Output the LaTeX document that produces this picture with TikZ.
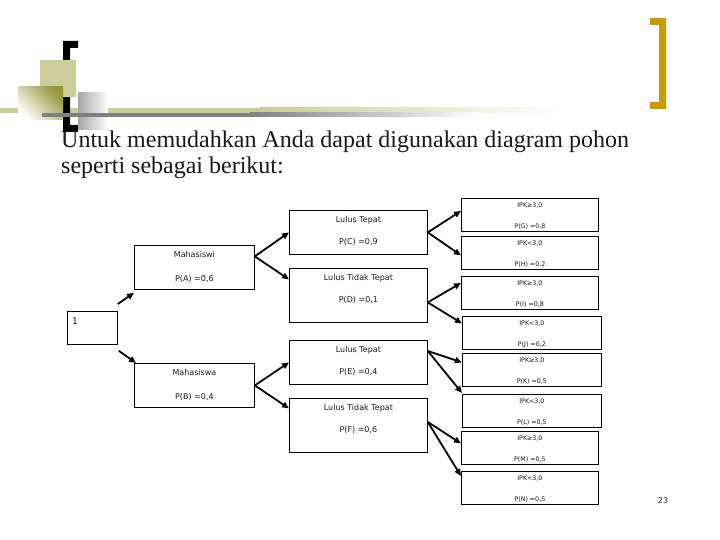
\documentclass[tikz,border=0pt]{standalone}
\usepackage{fontspec}
\setmainfont{Liberation Serif}
\newfontfamily\boxfont{DejaVu Sans}
\usetikzlibrary{arrows.meta}
\definecolor{slideolive}{RGB}{204,204,153}
\definecolor{slideolivedk}{RGB}{150,150,60}
\definecolor{slidegold}{RGB}{204,153,0}
\definecolor{slidegray}{RGB}{128,128,128}

\begin{document}
\begin{tikzpicture}[x=1pt, y=-1pt,
    box/.style={draw, line width=0.8pt, inner sep=0pt, anchor=north west},
    lab/.style={anchor=center, inner sep=0pt, text=black!90, font=\boxfont\fontsize{8}{9}\selectfont},
    leaflab/.style={lab, font=\boxfont\fontsize{6.3}{7}\selectfont},
    mid/.style 2 args={box, minimum width=138pt, label={[lab, yshift=-10pt]north:{#1}}, label={[lab, yshift=-32pt]north:{#2}}},
    first/.style 2 args={box, minimum width=120pt, minimum height=44pt, label={[lab, yshift=-10pt]north:{#1}}, label={[lab, yshift=-34pt]north:{#2}}},
    leaf/.style 2 args={box, minimum width=137pt, minimum height=33pt, label={[leaflab, yshift=-8pt]north:{#1}}, label={[leaflab, yshift=-29pt]north:{#2}}},
    arrow/.style={-{Triangle[length=7pt,width=6pt]}, line width=1.8pt}
  ]
  \useasboundingbox (0,0) rectangle (720,540);

  % slide decoration
  \fill[slideolive] (0,108) rectangle (260,113);
  \shade[left color=slideolive, right color=white] (260,108) rectangle (560,113);
  \fill[black] (63,41) rectangle (70,132) (63,41) rectangle (78,48) (63,125) rectangle (78,132);
  \fill[slideolive] (40,60) rectangle (76,97);
  \shade[top color=slideolivedk, bottom color=white, shading angle=-45] (18,87) rectangle (63,120);
  \shade[left color=slidegray!70, right color=white] (78,93) rectangle (108,130);
  \fill[slidegray] (42,113) rectangle (250,117);
  \shade[left color=slidegray, right color=white] (250,113) rectangle (480,117);
  \fill[slidegold] (659,18) rectangle (666,109) (650,18) rectangle (666,25) (650,102) rectangle (666,109);

  % intro text
  \node[anchor=north west, inner sep=0pt, align=left, text=black!90, font=\fontsize{24}{26}\selectfont] (intro) at (61,131)
    {Untuk memudahkan Anda dapat digunakan diagram pohon\\seperti sebagai berikut:};

  % root
  \node[box, minimum width=50pt, minimum height=33pt, label={[lab, font=\boxfont\fontsize{9}{10}\selectfont, xshift=8pt, yshift=-10pt]north west:1}] (root) at (67,311) {};

  % first level
  \node[first={Mahasiswi}{P(A) =0,6}] (mhsi) at (134,245) {};
  \node[first={Mahasiswa}{P(B) =0,4}] (mhsa) at (134,363) {};

  % second level
  \node[mid={Lulus Tepat}{P(C) =0,9}, minimum height=44pt] (tepatC) at (289,210) {};
  \node[mid={Lulus Tidak Tepat}{P(D) =0,1}, minimum height=54pt] (tidakD) at (289,268) {};
  \node[mid={Lulus Tepat}{P(E) =0,4}, minimum height=44pt] (tepatE) at (289,340) {};
  \node[mid={Lulus Tidak Tepat}{P(F) =0,6}, minimum height=54pt] (tidakF) at (289,398) {};

  % leaves
  \node[leaf={IPK≥3,0}{P(G) =0,8}] (ipkG) at (461,198) {};
  \node[leaf={IPK<3,0}{P(H) =0,2}] (ipkH) at (461,236) {};
  \node[leaf={IPK≥3,0}{P(I) =0,8}] (ipkI) at (461,276) {};
  \node[leaf={IPK<3,0}{P(J) =0,2}, minimum width=139pt] (ipkJ) at (462,316) {};
  \node[leaf={IPK≥3,0}{P(K) =0,5}, minimum width=139pt] (ipkK) at (462,353) {};
  \node[leaf={IPK<3,0}{P(L) =0,5}, minimum width=139pt] (ipkL) at (462,394) {};
  \node[leaf={IPK≥3,0}{P(M) =0,5}] (ipkM) at (461,431) {};
  \node[leaf={IPK<3,0}{P(N) =0,5}] (ipkN) at (461,471) {};

  % branches
  \draw[arrow] ([yshift=7pt]root.north east) -- ([yshift=-3pt]mhsi.south west);
  \draw[arrow] ([xshift=1pt, yshift=-6pt]root.south east) -- ([xshift=2pt]mhsa.north west);
  \draw[arrow] ([yshift=11pt]mhsi.east) -- (tepatC.west);
  \draw[arrow] ([yshift=11pt]mhsi.east) -- ([yshift=16pt]tidakD.west);
  \draw[arrow] (mhsa.east) -- (tepatE.west);
  \draw[arrow] (mhsa.east) -- ([yshift=17pt]tidakF.west);
  \draw[arrow] (tepatC.east) -- ([yshift=4pt]ipkG.west);
  \draw[arrow] (tepatC.east) -- ([yshift=-2.5pt]ipkH.west);
  \draw[arrow] ([yshift=-7pt]tidakD.east) -- ([yshift=10pt]ipkI.west);
  \draw[arrow] ([yshift=-7pt]tidakD.east) -- ([yshift=9.5pt]ipkJ.west);
  \draw[arrow] ([yshift=-11pt]tepatE.north east) -- ([yshift=7.5pt]ipkK.west);
  \draw[arrow] ([yshift=-11pt]tepatE.north east) -- ([yshift=1pt]ipkL.north west);
  \draw[arrow] ([yshift=-24pt]tidakF.north east) -- ([yshift=4.5pt]ipkM.west);
  \draw[arrow] ([yshift=-24pt]tidakF.north east) -- ([yshift=-5pt]ipkN.north west);

  % page number
  \node[inner sep=0pt, text=black!85, font=\boxfont\fontsize{8}{9}\selectfont] (pagenum) at (663,501) {23};
\end{tikzpicture}
\end{document}
